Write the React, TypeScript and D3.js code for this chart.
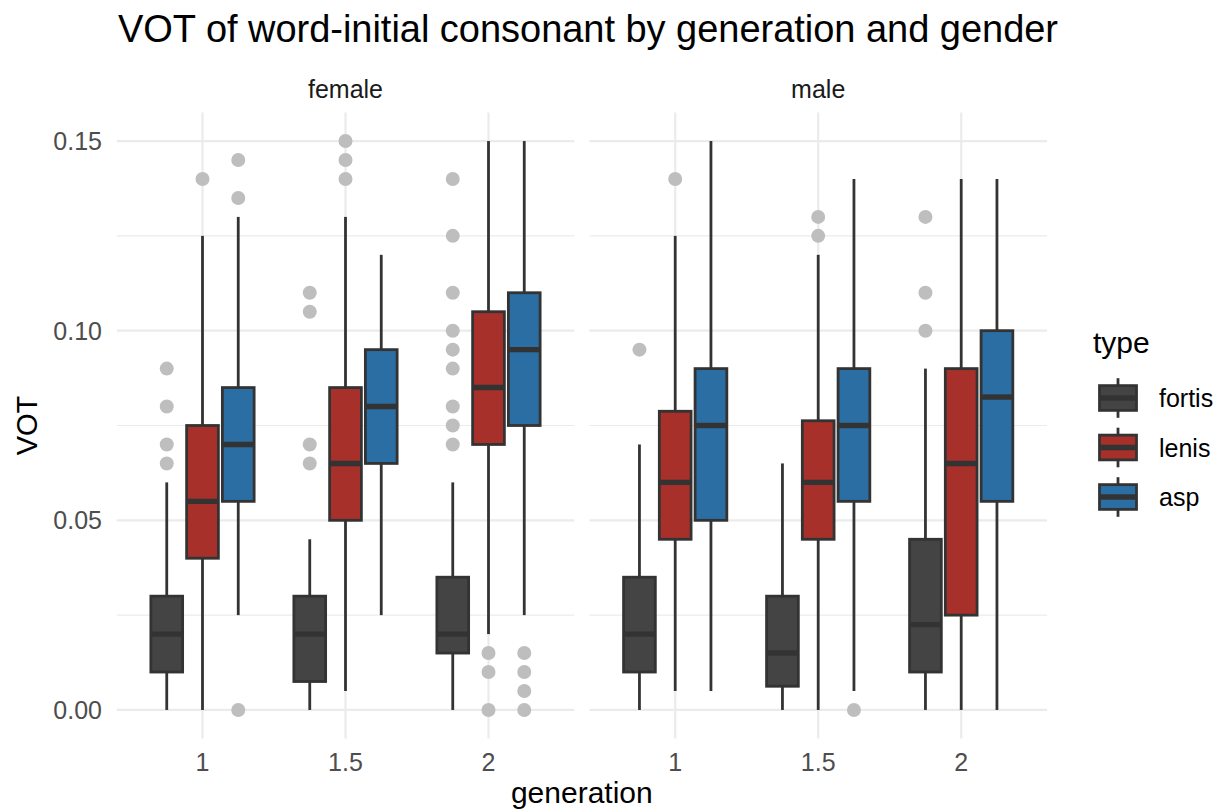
import React from "react";
import * as d3 from "d3";

const genders = ["female", "male"];
const generations = ["1", "1.5", "2"];
const types = ["fortis", "lenis", "asp"];
const typeColors = ["#444444", "#A8302A", "#2A6EA3"];
const yTicks = [0, 0.05, 0.1, 0.15];
const yMinor = [0.025, 0.075, 0.125];

// box stats per generation: [lower whisker, q1, median, q3, upper whisker]
const femaleFortis = [[0, 0.01, 0.02, 0.03, 0.06], [0, 0.0075, 0.02, 0.03, 0.045], [0, 0.015, 0.02, 0.035, 0.06]];
const femaleLenis = [[0, 0.04, 0.055, 0.075, 0.125], [0.005, 0.05, 0.065, 0.085, 0.13], [0.02, 0.07, 0.085, 0.105, 0.15]];
const femaleAsp = [[0.025, 0.055, 0.07, 0.085, 0.13], [0.025, 0.065, 0.08, 0.095, 0.12], [0.025, 0.075, 0.095, 0.11, 0.15]];
const maleFortis = [[0, 0.01, 0.02, 0.035, 0.07], [0, 0.00625, 0.015, 0.03, 0.065], [0, 0.01, 0.0225, 0.045, 0.09]];
const maleLenis = [[0.005, 0.045, 0.06, 0.07875, 0.125], [0, 0.045, 0.06, 0.07625, 0.12], [0, 0.025, 0.065, 0.09, 0.14]];
const maleAsp = [[0.005, 0.05, 0.075, 0.09, 0.15], [0.005, 0.055, 0.075, 0.09, 0.14], [0, 0.055, 0.0825, 0.1, 0.14]];

// outliers per generation
const femaleFortisOut = [[0.065, 0.07, 0.08, 0.09], [0.065, 0.07, 0.105, 0.11], [0.07, 0.075, 0.08, 0.09, 0.095, 0.1, 0.11, 0.125, 0.14]];
const femaleLenisOut = [[0.14], [0.14, 0.145, 0.15], [0, 0.01, 0.015]];
const femaleAspOut = [[0, 0.135, 0.145], [], [0, 0.005, 0.01, 0.015]];
const maleFortisOut = [[0.095], [], [0.1, 0.11, 0.13]];
const maleLenisOut = [[0.14], [0.125, 0.13], []];
const maleAspOut = [[], [0], []];

const stats = [[femaleFortis, femaleLenis, femaleAsp], [maleFortis, maleLenis, maleAsp]];
const outliers = [[femaleFortisOut, femaleLenisOut, femaleAspOut], [maleFortisOut, maleLenisOut, maleAspOut]];

const W = 1217, H = 810;
const panelLefts = [116.7, 589.4];
const panelW = 457.6;
const panelTop = 112.6, panelBottom = 738.4;
const FONT = "'Liberation Sans', Arial, Helvetica, sans-serif";
const LINE = "#333333";
const GRID = "#EBEBEB";
const LW = 2.8;
const MW = 5.4;

export default function App() {
  const y = d3.scaleLinear().domain([-0.0075, 0.1575]).range([panelBottom, panelTop]);
  const x = d3.scalePoint().domain(generations).range([0, panelW]).padding(0.6);
  const step = x.step();
  const dodge = 0.25 * step;
  const boxW = 0.222 * step;
  const fmt = d3.format(".2f");

  return (
    <svg width={W} height={H} style={{ position: "absolute", left: 0, top: 0, background: "#fff" }} fontFamily={FONT}>
      <rect width={W} height={H} fill="#fff" />
      <text x={118} y={42} fontSize={38} fill="#000" textLength={940} lengthAdjust="spacing">VOT of word-initial consonant by generation and gender</text>

      {genders.map((g, gi) => {
        const left = panelLefts[gi];
        return (
          <g key={g} transform={`translate(${left},0)`}>
            <text x={panelW / 2} y={98} fontSize={25} fill="#1A1A1A" textAnchor="middle">{g}</text>
            {yMinor.map((v) => (
              <line key={"m" + v} x1={0} x2={panelW} y1={y(v)} y2={y(v)} stroke={GRID} strokeWidth={1.1} />
            ))}
            {yTicks.map((v) => (
              <line key={"t" + v} x1={0} x2={panelW} y1={y(v)} y2={y(v)} stroke={GRID} strokeWidth={2.2} />
            ))}
            {generations.map((gen) => (
              <line key={"v" + gen} x1={x(gen)} x2={x(gen)} y1={panelTop} y2={panelBottom} stroke={GRID} strokeWidth={2.2} />
            ))}
            {generations.map((gen) => (
              <text key={"xl" + gen} x={x(gen)} y={771} fontSize={25} fill="#4D4D4D" textAnchor="middle">{gen}</text>
            ))}
            {generations.map((gen, ki) =>
              types.map((t, ti) => {
                const s = stats[gi][ti][ki];
                const cx = (x(gen) as number) + (ti - 1) * dodge;
                return (
                  <g key={gen + t}>
                    {outliers[gi][ti][ki].map((o, oi) => (
                      <circle key={oi} cx={cx} cy={y(o)} r={7} fill="#BEBEBE" />
                    ))}
                    <line x1={cx} x2={cx} y1={y(s[4])} y2={y(s[3])} stroke={LINE} strokeWidth={LW} />
                    <line x1={cx} x2={cx} y1={y(s[1])} y2={y(s[0])} stroke={LINE} strokeWidth={LW} />
                    <rect x={cx - boxW / 2} y={y(s[3])} width={boxW} height={y(s[1]) - y(s[3])} fill={typeColors[ti]} stroke={LINE} strokeWidth={LW} />
                    <line x1={cx - boxW / 2} x2={cx + boxW / 2} y1={y(s[2])} y2={y(s[2])} stroke={LINE} strokeWidth={MW} />
                  </g>
                );
              })
            )}
          </g>
        );
      })}

      {yTicks.map((v) => (
        <text key={"yl" + v} x={102} y={y(v) + 9} fontSize={25} fill="#4D4D4D" textAnchor="end">{fmt(v)}</text>
      ))}

      <text x={(panelLefts[0] + panelLefts[1] + panelW) / 2} y={803} fontSize={30} fill="#000" textAnchor="middle">generation</text>
      <text transform={`translate(37,${(panelTop + panelBottom) / 2}) rotate(-90)`} fontSize={29} fill="#000" textAnchor="middle">VOT</text>

      <text x={1093} y={353} fontSize={30} fill="#000">type</text>
      {types.map((t, ti) => {
        const cy = 398 + ti * 49.5;
        const kx = 1118;
        const kh = 49.5;
        const bw = 37;
        return (
          <g key={"leg" + t}>
            <line x1={kx} x2={kx} y1={cy - kh * 0.4} y2={cy + kh * 0.4} stroke={LINE} strokeWidth={LW} />
            <rect x={kx - bw / 2} y={cy - kh / 4} width={bw} height={kh / 2} fill={typeColors[ti]} stroke={LINE} strokeWidth={LW} />
            <line x1={kx - bw / 2} x2={kx + bw / 2} y1={cy} y2={cy} stroke={LINE} strokeWidth={MW} />
            <text x={1159} y={cy + 9} fontSize={25} fill="#000">{t}</text>
          </g>
        );
      })}
    </svg>
  );
}
